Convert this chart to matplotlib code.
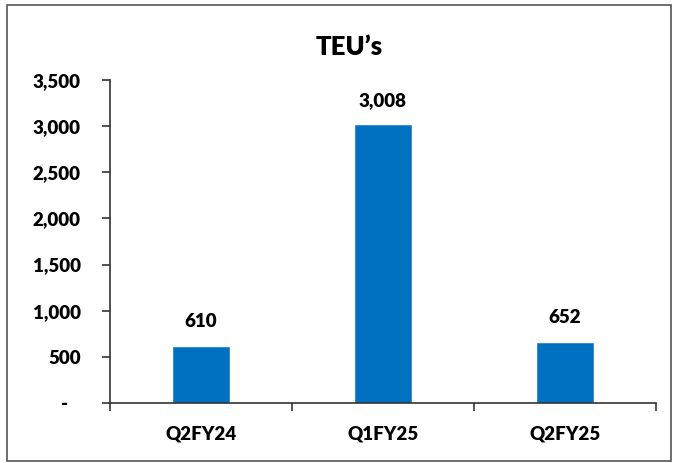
import matplotlib
matplotlib.use("Agg")
import matplotlib.pyplot as plt
from matplotlib.patches import Rectangle
from matplotlib.ticker import FuncFormatter

categories = ["Q2FY24", "Q1FY25", "Q2FY25"]
values = [610, 3008, 652]
title = "TEU\u2019s"

plt.rcParams['font.family'] = ['Lato', 'DejaVu Sans']
WT = 'heavy'

W, H = 679, 463
fig = plt.figure(figsize=(W / 100, H / 100), dpi=100)
ax = fig.add_axes([110 / W, 1 - 403 / H, (656 - 110) / W, (403 - 80) / H])

x = list(range(len(categories)))
ax.bar(x, values, width=0.31, color="#0070C0", edgecolor="#2E86D0", linewidth=0.6, zorder=2)
ax.set_xlim(-0.5, len(categories) - 0.5)
ax.set_ylim(0, 3500)
ax.set_yticks(range(0, 3501, 500))
ax.yaxis.set_major_formatter(FuncFormatter(lambda v, p: "-   " if v == 0 else f"{int(v):,}"))

ax.set_xticks([i - 0.5 for i in range(len(categories) + 1)], minor=False)
ax.set_xticklabels([])
ax.set_xticks(x, minor=True)
ax.set_xticklabels(categories, minor=True)
ax.tick_params(axis='x', which='minor', length=0, pad=16, labelsize=13.5)
ax.tick_params(axis='x', which='major', length=6, width=1.2, color="#333333", direction='out')
ax.tick_params(axis='y', length=6, width=1.2, color="#333333", direction='out', pad=15, labelsize=13.5)
for lbl in ax.get_yticklabels() + ax.get_xticklabels(minor=True):
    lbl.set_fontweight(WT)

for s in ['top', 'right']:
    ax.spines[s].set_visible(False)
for s in ['left', 'bottom']:
    ax.spines[s].set_linewidth(1.2)
    ax.spines[s].set_color("#333333")

for xi, v in zip(x, values):
    ax.annotate(f"{v:,}", (xi, v), xytext=(0, 18), textcoords='offset points',
                ha='center', va='center', fontsize=13.5, fontweight=WT)

fig.text(349 / W, 1 - 47 / H, title, ha='center', va='center', fontsize=18.5, fontweight=WT)

fig.patches.append(Rectangle((7 / W, 1 - 461 / H), (671 - 7) / W, (461 - 5) / H,
                             transform=fig.transFigure, fill=False, edgecolor="#555555",
                             linewidth=1.2))

fig.savefig("out.png", dpi=100)
